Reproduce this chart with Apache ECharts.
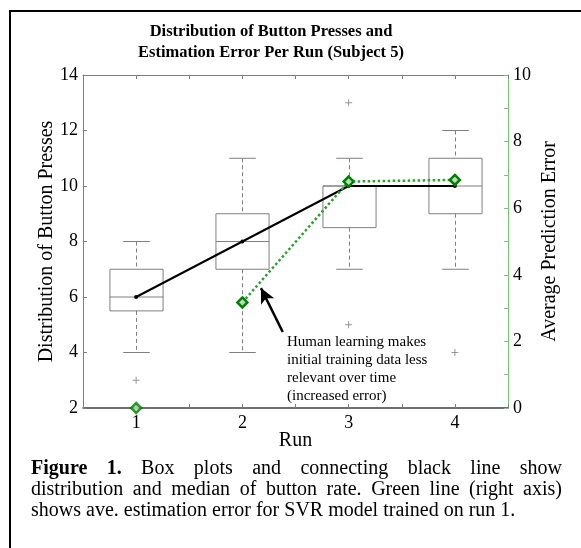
<!DOCTYPE html>
<html>
<head>
<meta charset="utf-8">
<script src="https://cdn.jsdelivr.net/npm/echarts@6/dist/echarts.min.js"></script>
<style>
    body { margin: 0; background: #fff; }
    #wrap { position: relative; width: 581px; height: 548px; overflow: hidden; }
    #main { width: 581px; height: 548px; }
    .caption {
        position: absolute; left: 31px; width: 531px; top: 457px;
        font-family: 'Liberation Serif', 'Times New Roman', serif;
        font-size: 20px; line-height: 21px; color: #000;
    }
    .caption div { white-space: nowrap; }
    .caption .j { text-align: justify; text-align-last: justify; }
</style>
</head>
<body>
<div id="wrap">
    <div id="main"></div>
    <div class="caption">
        <div class="j"><b>Figure 1.</b> Box plots and connecting black line show</div>
        <div class="j">distribution and median of button rate. Green line (right axis)</div>
        <div>shows ave. estimation error for SVR model trained on run 1.</div>
    </div>
</div>
<script>
    // box plot stats per run
    var runs = [1, 2, 3, 4];
    var whiskerLow = [4, 4, 7, 7];
    var q1 = [5.5, 7, 8.5, 9];
    var medians = [6, 8, 10, 10];
    var q3 = [7, 9, 10, 11];
    var whiskerHigh = [8, 11, 11, 12];
    var outlierRuns = [1, 3, 3, 4];
    var outlierValues = [3, 13, 5, 4];
    // average prediction error (right axis)
    var errorValues = [0, 3.17, 6.8, 6.85];
    // annotation arrow (run, presses)
    var arrowFrom = [2.38, 4.74];
    var arrowTo = [2.175, 6.32];

    var serif = 'Liberation Serif';
    var grey = '#7f7f7f';

    var boxData = runs.map(function (r, i) {
        return [r, whiskerLow[i], q1[i], medians[i], q3[i], whiskerHigh[i]];
    });
    var outlierData = outlierRuns.map(function (r, i) { return [r, outlierValues[i]]; });
    var medianData = runs.map(function (r, i) { return [r, medians[i]]; });
    var errorLine = runs.slice(1).map(function (r, i) { return [r, errorValues[i + 1]]; });
    var errorFirst = [[runs[0], errorValues[0]]];

    function renderBox(params, api) {
        var x = api.value(0);
        var pLow = api.coord([x, api.value(1)]);
        var pQ1 = api.coord([x, api.value(2)]);
        var pMed = api.coord([x, api.value(3)]);
        var pQ3 = api.coord([x, api.value(4)]);
        var pHigh = api.coord([x, api.value(5)]);
        var cx = Math.round(pMed[0]) + 0.5;
        var halfBox = api.size([0.25, 0])[0];
        var halfCap = api.size([0.125, 0])[0];
        var solid = {stroke: grey, lineWidth: 1, fill: null};
        var dashed = {stroke: grey, lineWidth: 1, lineDash: [4, 3], fill: null};
        return {
            type: 'group',
            children: [
                {type: 'line', shape: {x1: cx, y1: pHigh[1], x2: cx, y2: pQ3[1]}, style: dashed},
                {type: 'line', shape: {x1: cx, y1: pQ1[1], x2: cx, y2: pLow[1]}, style: dashed},
                {type: 'line', shape: {x1: cx - halfCap, y1: pHigh[1], x2: cx + halfCap, y2: pHigh[1]}, style: solid},
                {type: 'line', shape: {x1: cx - halfCap, y1: pLow[1], x2: cx + halfCap, y2: pLow[1]}, style: solid},
                {type: 'rect', shape: {x: cx - halfBox, y: pQ3[1], width: halfBox * 2, height: pQ1[1] - pQ3[1]}, style: solid},
                {type: 'line', shape: {x1: cx - halfBox, y1: pMed[1], x2: cx + halfBox, y2: pMed[1]}, style: solid}
            ]
        };
    }

    var tickLabel = {color: '#000', fontSize: 18, fontFamily: serif};
    var nameStyle = {color: '#000', fontSize: 20, fontFamily: serif};

    var myChart = echarts.init(document.getElementById('main'));
    var option = {
        backgroundColor: '#fff',
        animation: false,
        title: {
            text: 'Distribution of Button Presses and\nEstimation Error Per Run (Subject 5)',
            left: 266,
            top: 16,
            textAlign: 'center',
            textStyle: {fontFamily: serif, fontWeight: 'bold', fontSize: 16.5, lineHeight: 21, color: '#000'}
        },
        grid: {left: 83, right: 73, top: 75, bottom: 140},
        xAxis: [
            {
                type: 'value', min: 0.5, max: 4.5, interval: 0.5, position: 'bottom',
                name: 'Run', nameLocation: 'middle', nameGap: 23, nameMoveOverlap: false,
                nameTextStyle: nameStyle,
                axisLine: {show: true, lineStyle: {color: '#404040', width: 1.5}},
                axisTick: {inside: true, length: 4, lineStyle: {color: grey}},
                axisLabel: Object.assign({
                    margin: 6,
                    formatter: function (v) { return Number.isInteger(v) ? String(v) : ''; }
                }, tickLabel),
                splitLine: {show: false}
            },
            {
                type: 'value', min: 0.5, max: 4.5, interval: 0.5, position: 'top',
                axisLine: {show: true, lineStyle: {color: grey}},
                axisTick: {inside: true, length: 4, lineStyle: {color: grey}},
                axisLabel: {show: false},
                splitLine: {show: false}
            }
        ],
        yAxis: [
            {
                type: 'value', min: 2, max: 14, interval: 2, position: 'left',
                name: 'Distribution of Button Presses', nameLocation: 'middle', nameRotate: 90,
                nameGap: 26, nameMoveOverlap: false, nameTextStyle: nameStyle,
                axisLine: {show: true, lineStyle: {color: grey}},
                axisTick: {show: true, inside: true, length: 4, lineStyle: {color: grey}},
                axisLabel: Object.assign({margin: 5}, tickLabel),
                splitLine: {show: false}
            },
            {
                type: 'value', min: 0, max: 10, interval: 1, position: 'right',
                name: 'Average Prediction Error', nameLocation: 'middle', nameRotate: 90,
                nameGap: 32, nameMoveOverlap: false, nameTextStyle: nameStyle,
                axisLine: {show: true, lineStyle: {color: '#7cc47c'}},
                axisTick: {show: true, inside: true, length: 4, lineStyle: {color: '#7cc47c'}},
                axisLabel: Object.assign({
                    margin: 5,
                    formatter: function (v) { return v % 2 === 0 ? String(v) : ''; }
                }, tickLabel),
                splitLine: {show: false}
            }
        ],
        series: [
            {
                type: 'custom',
                xAxisIndex: 0, yAxisIndex: 0,
                renderItem: renderBox,
                encode: {x: 0, y: [1, 2, 3, 4, 5]},
                data: boxData,
                silent: true,
                z: 2
            },
            {
                type: 'scatter',
                xAxisIndex: 0, yAxisIndex: 0,
                symbol: 'path://M0,5L10,5M5,0L5,10',
                symbolSize: 7,
                itemStyle: {color: 'rgba(0,0,0,0)', borderColor: grey, borderWidth: 1},
                data: outlierData,
                silent: true,
                z: 2,
                markLine: {
                    silent: true,
                    symbol: ['none', 'arrow'],
                    symbolSize: [11, 15],
                    label: {show: false},
                    lineStyle: {color: '#000', width: 2.5, type: 'solid'},
                    data: [[{coord: arrowFrom}, {coord: arrowTo}]]
                }
            },
            {
                type: 'line',
                xAxisIndex: 0, yAxisIndex: 0,
                data: medianData,
                symbol: 'circle',
                symbolSize: 4,
                itemStyle: {color: '#000'},
                lineStyle: {color: '#000', width: 2},
                silent: true,
                z: 5
            },
            {
                type: 'line',
                xAxisIndex: 0, yAxisIndex: 1,
                data: errorLine,
                symbol: 'diamond',
                symbolSize: 10,
                showAllSymbol: true,
                itemStyle: {color: '#b8dcb8', borderColor: '#008000', borderWidth: 2.5},
                lineStyle: {color: '#2ca02c', width: 2.5, type: 'dotted'},
                silent: true,
                z: 6
            },
            {
                type: 'scatter',
                xAxisIndex: 0, yAxisIndex: 1,
                data: errorFirst,
                symbol: 'diamond',
                symbolSize: 10,
                clip: true,
                itemStyle: {color: '#b8dcb8', borderColor: '#008000', borderWidth: 2.5},
                silent: true,
                z: 6
            }
        ],
        graphic: [
            {
                type: 'rect', silent: true, z: -10,
                shape: {x: 10, y: 11, width: 800, height: 800},
                style: {fill: null, stroke: '#000', lineWidth: 2}
            },
            {
                type: 'text', silent: true, left: 287, top: 333,
                style: {
                    text: 'Human learning makes\ninitial training data less\nrelevant over time\n(increased error)',
                    font: '15px "Liberation Serif"', lineHeight: 18, fill: '#000'
                }
            }
        ]
    };
    myChart.setOption(option);
</script>
</body>
</html>
